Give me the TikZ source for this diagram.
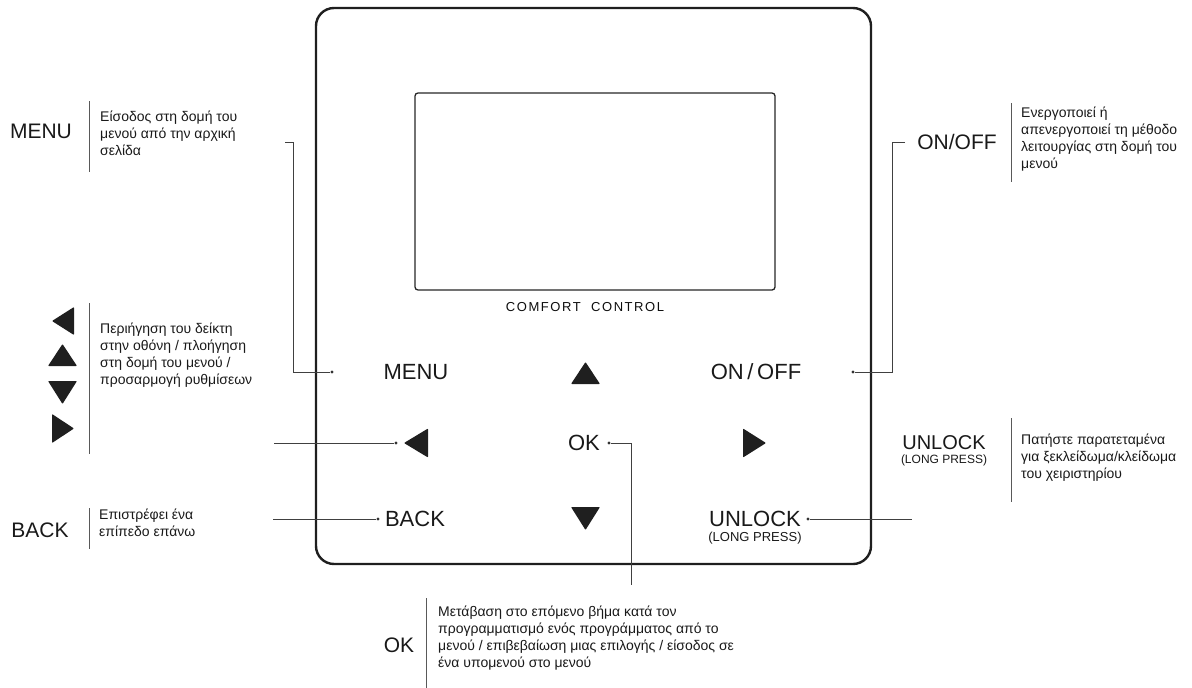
\documentclass[tikz,border=0pt]{standalone}
\usepackage{fontspec}
\setmainfont{Liberation Sans}
\newfontfamily\lcdfont[LetterSpace=12]{Liberation Sans}
\begin{document}
\begin{tikzpicture}[x=1pt,y=-1pt,
  conn/.style={draw=black!75, line width=0.9pt},
  sep/.style={draw=black!65, line width=0.8pt},
  dot/.style={circle, fill=black!80, inner sep=0pt, minimum size=3.2pt},
  btn/.style={font=\fontsize{22}{26}\selectfont, inner sep=0pt, text=black!90},
  small/.style={font=\fontsize{13}{15}\selectfont, inner sep=0pt, text=black!90},
  lbl/.style={font=\fontsize{21}{25}\selectfont, inner sep=0pt, text=black!90},
  desc/.style={font=\fontsize{14}{17}\selectfont, align=left, anchor=west, inner sep=0pt, text=black!90},
  tri/.style={fill=black!88, rounded corners=0.8pt}]
\useasboundingbox (0,0) rectangle (1192,688);

% panel and screen
\draw[line width=2.4pt, draw=black!88, rounded corners=18pt] (316,8) rectangle (871,564);
\draw[line width=1.3pt, draw=black!85, rounded corners=3pt] (415,93) rectangle (775,290);
\node[font=\lcdfont\fontsize{13}{15}\selectfont, inner sep=0pt, text=black!95] (brand) at (585,307) {COMFORT\ \ CONTROL};

% buttons
\node[btn] (bmenu) at (416,372) {MENU};
\node[btn] (bonoff) at (756,372) {ON\,/\,OFF};
\node[btn] (bok) at (584,443) {OK};
\node[btn] (bback) at (415,519) {BACK};
\node[btn] (bunlock) at (755,519) {UNLOCK};
\node[small] (blong) at (755,538) {(LONG PRESS)};
\fill[tri] (571,384) -- (600,384) -- (585.5,362) -- cycle;
\fill[tri] (571,507) -- (600,507) -- (585.5,530) -- cycle;
\fill[tri] (404,443) -- (428,428.5) -- (428,457.5) -- cycle;
\fill[tri] (743,428.5) -- (766,443) -- (743,457.5) -- cycle;

% left labels
\node[lbl] (lmenu) at (41,131) {MENU};
\draw[sep] (89,101) -- (89,172);
\node[desc] (dmenu) at (100,133) {Είσοδος στη δομή του\\μενού από την αρχική\\σελίδα};

\fill[tri] (52,321) -- (74,307) -- (74,335) -- cycle;
\fill[tri] (48,366) -- (77,366) -- (62.5,344) -- cycle;
\fill[tri] (48,381) -- (77,381) -- (62.5,404) -- cycle;
\fill[tri] (52,414) -- (74,428.5) -- (52,443) -- cycle;
\draw[sep] (89,303) -- (89,454);
\node[desc] (darrows) at (100,355) {Περιήγηση του δείκτη\\στην οθόνη / πλοήγηση\\στη δομή του μενού /\\προσαρμογή ρυθμίσεων};

\node[lbl] (lback) at (40,530) {BACK};
\draw[sep] (89,508) -- (89,549);
\node[desc] (dback) at (99,523) {Επιστρέφει ένα\\επίπεδο επάνω};

% right labels
\node[lbl] (lonoff) at (957,142) {ON/OFF};
\draw[sep] (1011,103) -- (1011,182);
\node[desc] (donoff) at (1021,139) {Ενεργοποιεί ή\\απενεργοποιεί τη μέθοδο\\λειτουργίας στη δομή του\\μενού};

\node[font=\fontsize{20}{24}\selectfont, inner sep=0pt, text=black!90] (lunlock) at (944,443) {UNLOCK};
\node[font=\fontsize{12}{14}\selectfont, inner sep=0pt, text=black!90] (llong) at (944,460) {(LONG PRESS)};
\draw[sep] (1011,418) -- (1011,502);
\node[desc] (dunlock) at (1021,458) {Πατήστε παρατεταμένα\\για ξεκλείδωμα/κλείδωμα\\του χειριστηρίου};

% bottom OK label
\node[lbl] (lok) at (399,645) {OK};
\draw[sep] (426,598) -- (426,688);
\node[desc] (dok) at (438,638) {Μετάβαση στο επόμενο βήμα κατά τον\\προγραμματισμό ενός προγράμματος από το\\μενού / επιβεβαίωση μιας επιλογής / είσοδος σε\\ένα υπομενού στο μενού};

% connectors
\node[dot] (mdot) at (332,372) {};
\coordinate (mA) at (285,142);
\draw[conn] (mA) -- ++(8,0) |- (mdot);

\node[dot] (odot) at (853,372) {};
\coordinate (oA) at (905,142);
\draw[conn] (oA) -- ++(-13,0) |- (odot);

\node[dot] (adot) at (396,443) {};
\coordinate (aA) at (274,443);
\draw[conn] (aA) -- (adot);

\node[dot] (kdot) at (609,443) {};
\coordinate (kE) at (631,585);
\draw[conn] (kdot) -| (kE);

\node[dot] (bdot) at (378,519) {};
\coordinate (bA) at (273,519);
\draw[conn] (bA) -- (bdot);

\node[dot] (udot) at (808,519) {};
\coordinate (uA) at (912,519);
\draw[conn] (udot) -- (uA);
\end{tikzpicture}
\end{document}
